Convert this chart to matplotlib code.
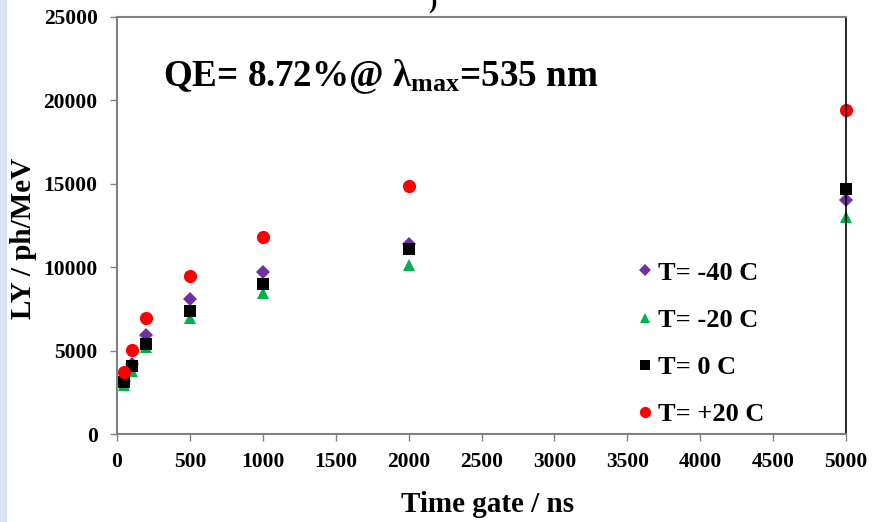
import matplotlib
matplotlib.use("Agg")
import matplotlib.pyplot as plt
from matplotlib.patches import Rectangle

plt.rcParams['font.family'] = ['Liberation Serif', 'DejaVu Serif']
plt.rcParams['font.weight'] = 'bold'
plt.rcParams['mathtext.fontset'] = 'custom'
plt.rcParams['mathtext.rm'] = 'Liberation Serif:bold'
plt.rcParams['mathtext.bf'] = 'Liberation Serif:bold'

time_gate = [50, 100, 200, 500, 1000, 2000, 5000]
ly_m40 = [3200, 4200, 5950, 8100, 9700, 11400, 14050]
ly_m20 = [2950, 3800, 5200, 6950, 8450, 10150, 13000]
ly_0 = [3100, 4100, 5400, 7350, 9000, 11100, 14700]
ly_p20 = [3700, 5050, 6950, 9450, 11800, 14870, 19400]

series = [
    ("T= -40 C", ly_m40, "D", "#7030a0", 7.5),
    ("T= -20 C", ly_m20, "^", "#00b050", 9),
    ("T= 0 C", ly_0, "s", "#000000", 9),
    ("T= +20 C", ly_p20, "o", "#ff0000", 9.5),
]

fig = plt.figure(figsize=(8.75, 5.22), dpi=100)
fig.patches.append(Rectangle((0, 0), 7/875, 1, transform=fig.transFigure,
                             facecolor="#d9e2f3", edgecolor="none"))
ax = fig.add_axes([117/875, 1-434/522, (846-117)/875, (434-17)/522])

handles = []
for label, vals, mk, col, ms in series:
    h, = ax.plot(time_gate, vals, linestyle="none", marker=mk, color=col,
                 markersize=ms, markeredgewidth=0, label=label, clip_on=False)
    handles.append(h)

ax.set_xlim(0, 5000)
ax.set_ylim(0, 25000)
ax.set_xticks(range(0, 5001, 500))
ax.set_yticks(range(0, 25001, 5000))
ax.tick_params(axis='both', direction='out', length=5, color='#808080',
               labelsize=15.5, width=1)
ax.tick_params(axis='x', pad=8)
ax.tick_params(axis='y', pad=9)
for lab in ax.get_xticklabels() + ax.get_yticklabels():
    lab.set_fontweight('bold')

for s in ['left', 'top', 'bottom']:
    ax.spines[s].set_color('#808080')
    ax.spines[s].set_linewidth(1.5)
ax.spines['right'].set_color('black')
ax.spines['right'].set_linewidth(1.2)

ax.set_xlabel("Time gate / ns", fontsize=21, fontweight='bold')
ax.set_ylabel("LY / ph/MeV", fontsize=21, fontweight='bold')
ax.xaxis.set_label_coords((488-117)/(846-117), -(504-434)/(434-17))
ax.yaxis.set_label_coords((24-117)/(846-117), (434-238)/(434-17))
ax.xaxis.label.set_va('center')
ax.yaxis.label.set_va('center')

ax.text(163/875, 1-77/522, r"QE= 8.72%@ $\mathbf{\lambda_{max}}$=535 nm",
        transform=fig.transFigure, fontsize=26.7, fontweight='bold',
        va='center', ha='left')

leg = ax.legend(handles=handles, loc='upper left',
                bbox_to_anchor=((624-117)/(846-117), (434-248)/(434-17)),
                frameon=False, fontsize=19, markerscale=0.85,
                handlelength=0.6, handletextpad=0.2, labelspacing=0.9,
                borderpad=0)
for t in leg.get_texts():
    t.set_fontweight('bold')

fig.text(432/875, 0.995, ")", fontsize=18, ha='center', va='center',
         fontweight='bold')

fig.savefig("out.png", dpi=100)
